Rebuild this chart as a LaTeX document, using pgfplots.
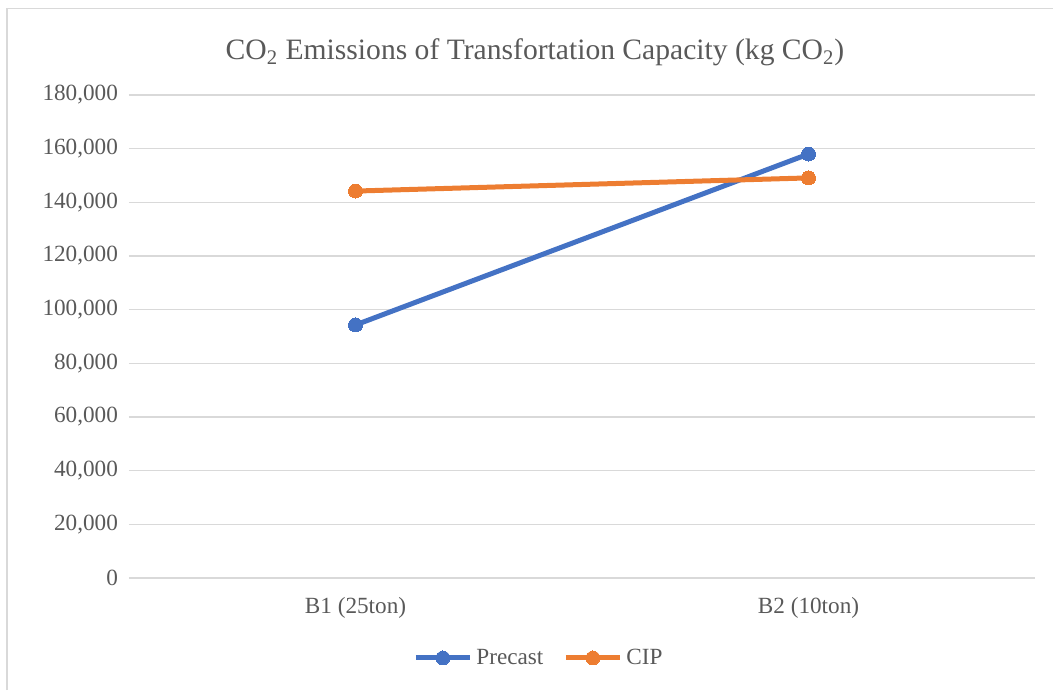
\documentclass[border=0pt]{standalone}
\usepackage{pgfplots}
\pgfplotsset{compat=1.18}
\usepackage{fontspec}
\setmainfont{Liberation Serif}
\definecolor{precast}{RGB}{68,114,196}
\definecolor{cip}{RGB}{237,125,49}
\definecolor{gridc}{RGB}{217,217,217}
\definecolor{txt}{RGB}{89,89,89}

\begin{document}
\begin{tikzpicture}[x=1pt,y=1pt]
\useasboundingbox (-64.5,-56) rectangle (462,289);
\draw[gridc, line width=0.8pt] (-61,-56) -- (-61,284.75) -- (462,284.75);
\begin{axis}[at={(0,0)}, anchor=south west,
  scale only axis, width=453pt, height=241.5pt,
  xmin=-0.5, xmax=1.5, ymin=0, ymax=180000,
  xtick={0,1}, xticklabels={B1 (25ton), B2 (10ton)},
  ytick={0,20000,...,180000},
  scaled y ticks=false,
  /pgf/number format/fixed,
  /pgf/number format/precision=0,
  /pgf/number format/1000 sep={,},
  /pgf/number format/assume math mode=true,
  tick style={draw=none},
  axis y line*=left, axis x line*=bottom,
  y axis line style={draw=none},
  x axis line style={gridc, line width=0.8pt},
  ymajorgrids, grid style={gridc, line width=0.8pt},
  ticklabel style={font=\fontsize{11.6}{14}\selectfont, text=txt},
  yticklabel style={xshift=-2pt},
  xticklabel style={yshift=-6pt},
  legend style={at={(0.4536,-0.1656)}, anchor=center, draw=none, fill=none,
    legend columns=2, font=\fontsize{11.6}{14}\selectfont, text=txt,
    /tikz/every even column/.append style={column sep=8pt}},
  legend image code/.code={\draw[mark repeat=2,mark phase=2] plot coordinates {(0pt,0pt)(13.5pt,0pt)(27pt,0pt)};},
  clip=false]
\addplot[precast, line width=2.5pt, mark=*, mark size=3.5pt, mark options={fill=precast, line width=0pt}]
  coordinates {(0,94300) (1,158000)};
\addplot[cip, line width=2.5pt, mark=*, mark size=3.5pt, mark options={fill=cip, line width=0pt}]
  coordinates {(0,144200) (1,149100)};
\legend{Precast, CIP}
\end{axis}
\node[text=txt, font=\fontsize{14.8}{17}\selectfont, anchor=base] at (203,259) {CO\textsubscript{2} Emissions of Transfortation Capacity (kg CO\textsubscript{2})};
\end{tikzpicture}
\end{document}
